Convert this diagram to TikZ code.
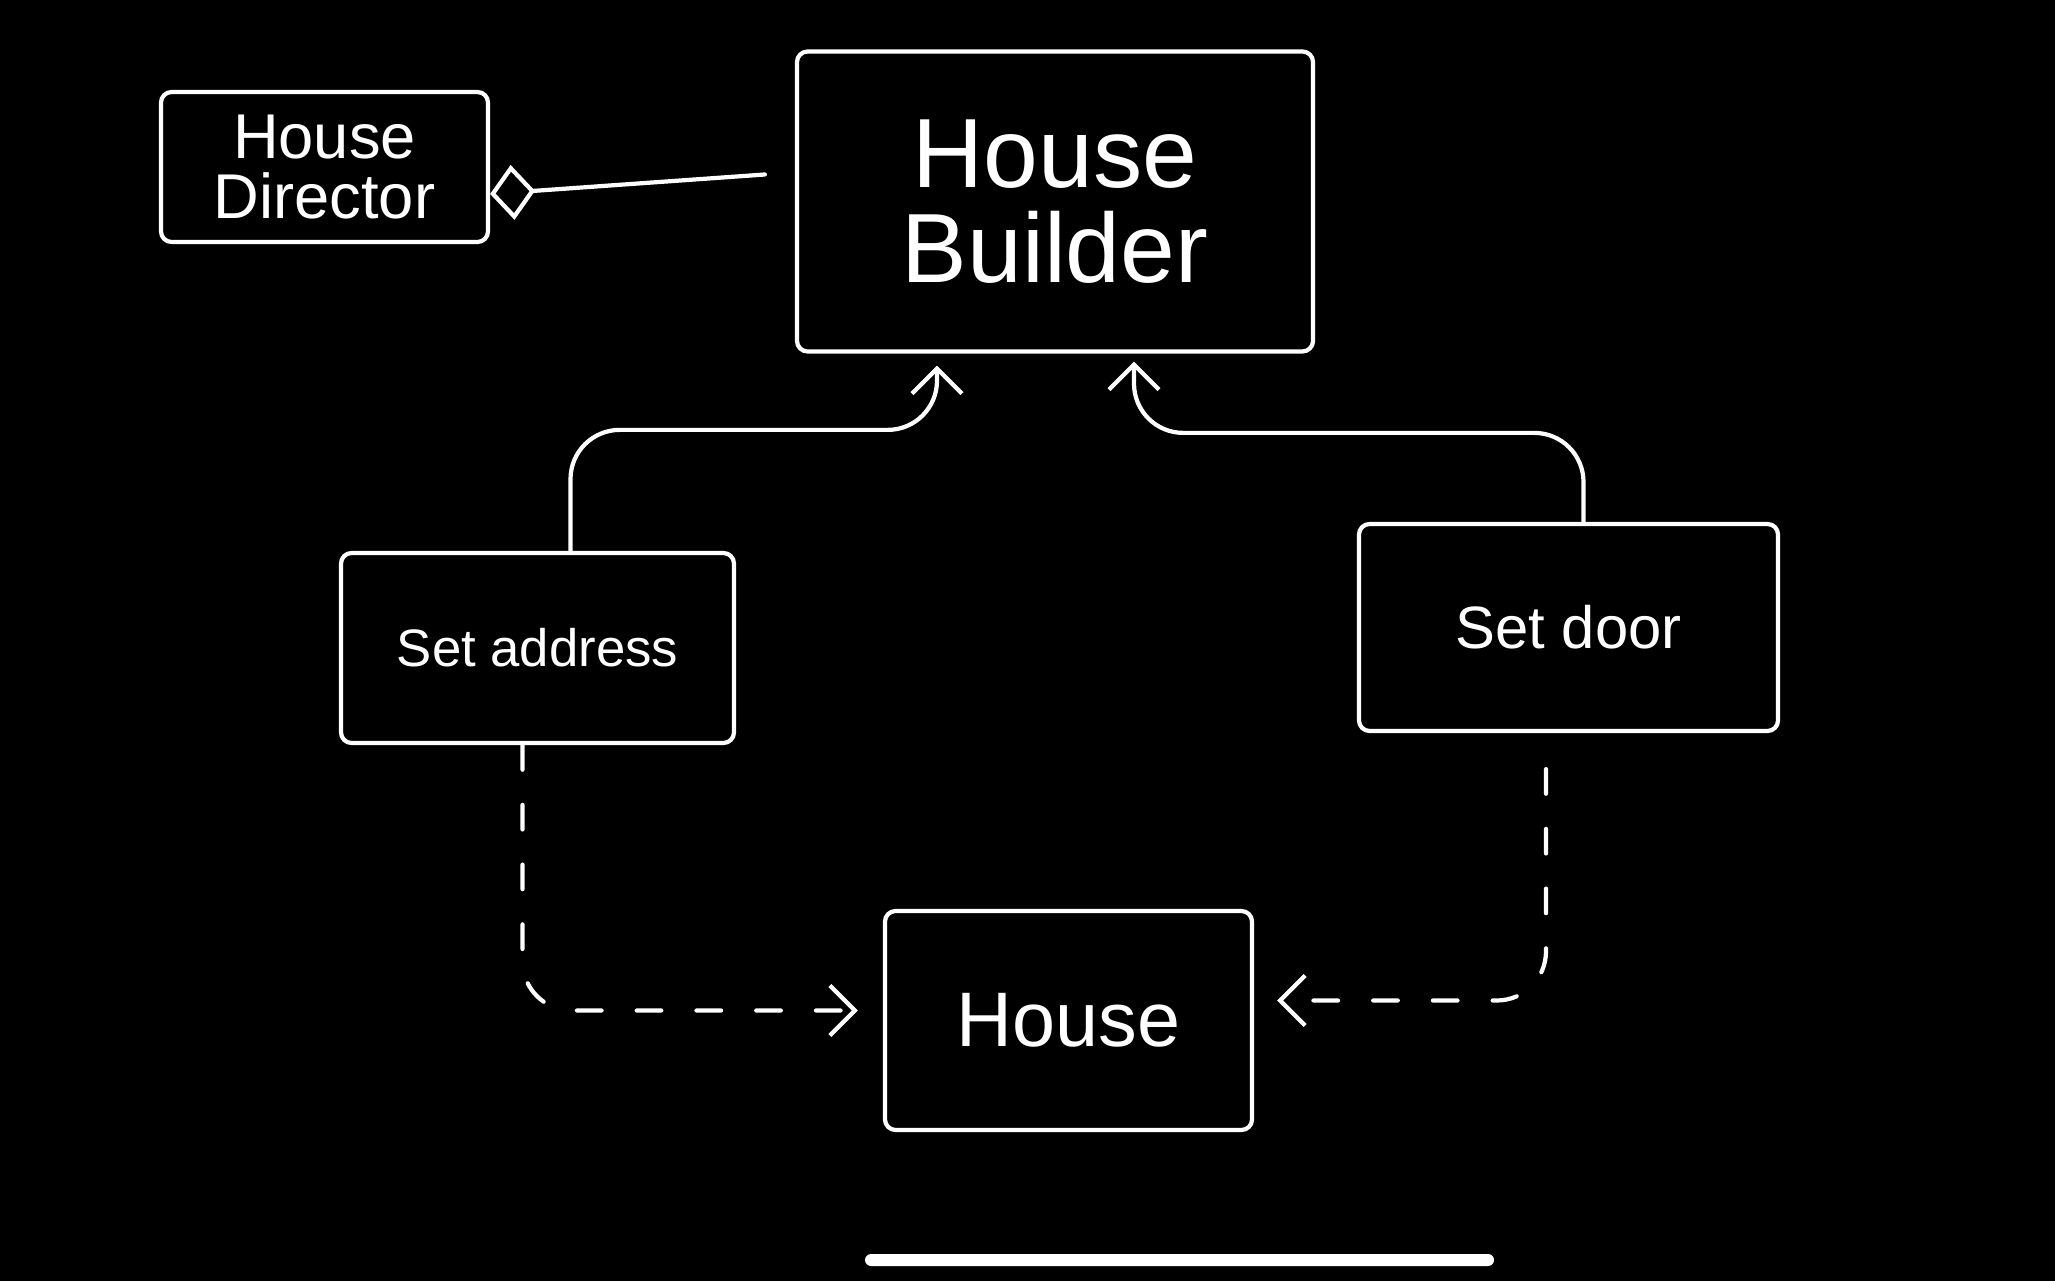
\documentclass[tikz,border=0pt]{standalone}
\usepackage{fontspec}
\setmainfont{Liberation Sans}
\usetikzlibrary{arrows.meta,positioning,calc}

\begin{document}
\begin{tikzpicture}
	[every node/.style={draw=white,line width=1.2pt,text=white,rounded corners=3pt,align=center},
	 link/.style={draw=white,line width=1.2pt,rounded corners=14pt,line cap=round},
	 dashlink/.style={link,dash pattern=on 7pt off 10pt}]
	% background and page size
	\fill[black] (0,0) rectangle (20.55,12.81);
	
	\node (director) at (3.245,11.14) [minimum width=3.27cm,minimum height=1.5cm,
		font=\fontsize{18}{17}\selectfont] {House\\Director};
	\node (builder) at (10.55,10.795) [minimum width=5.16cm,minimum height=3cm,
		font=\fontsize{28}{27}\selectfont] {House\\Builder};
	\node (address) at (5.375,6.33) [minimum width=3.93cm,minimum height=1.9cm,
		font=\fontsize{15}{15}\selectfont] {Set address};
	\node (door) at (15.685,6.535) [minimum width=4.19cm,minimum height=2.07cm,
		font=\fontsize{17}{17}\selectfont] {Set door};
	\node (house) at (10.685,2.605) [minimum width=3.67cm,minimum height=2.19cm,
		font=\fontsize{22}{22}\selectfont] {House};
	
	% director holds the builder
	\draw[link,-{Diamond[open,length=4.5mm,width=5.5mm]}]
		([xshift=-3mm,yshift=2.7mm]builder.west) -- ([yshift=-2.7mm]director.east);
	
	% both set steps go up to the builder
	\draw[link,-{Straight Barb[length=2.5mm,width=5mm]}]
		([xshift=3.3mm]address.north) -- ++(0,1.21)
		-| ([xshift=-11.8mm,yshift=-1.2mm]builder.south);
	\draw[link,-{Straight Barb[length=2.5mm,width=5mm]}]
		([xshift=1.5mm]door.north) -- ++(0,0.89)
		-| ([xshift=7.9mm,yshift=-0.8mm]builder.south);
	
	% both set steps make the house
	\draw[dashlink,-{Straight Barb[length=2.5mm,width=5mm]}]
		([xshift=-1.5mm]address.south) |- ([xshift=-2.5mm,yshift=1mm]house.west);
	\draw[dashlink,-{Straight Barb[length=2.5mm,width=5mm]}]
		([xshift=-2.25mm,yshift=-3.6mm]door.south) |- ([xshift=2.3mm,yshift=2mm]house.east);
	
	% home bar
	\fill[white,rounded corners=0.6mm] (8.65,0.15) rectangle (14.94,0.27);
\end{tikzpicture}
\end{document}
